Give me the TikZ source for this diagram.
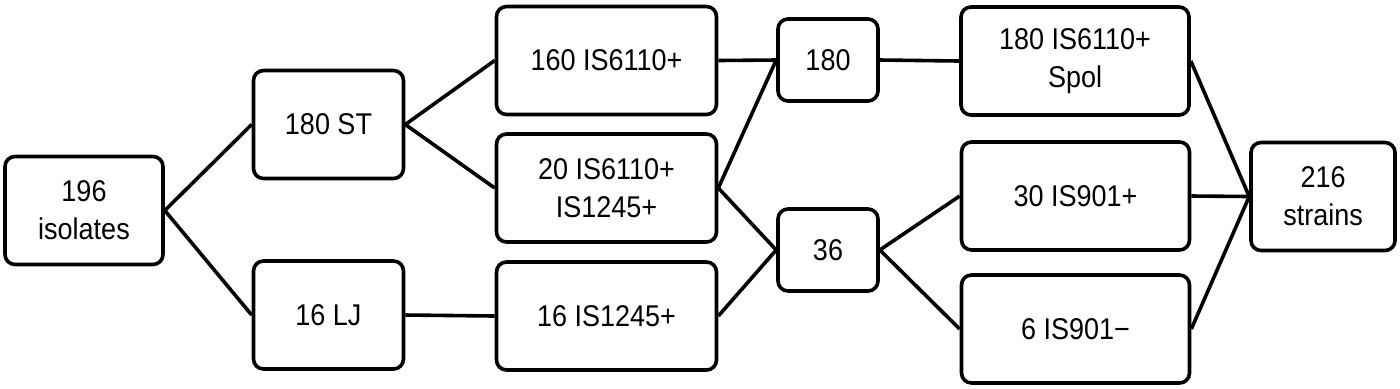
\documentclass[tikz,border=0pt]{standalone}
\usepackage{fontspec}
\setmainfont{Liberation Sans}[FakeStretch=0.9]
\tikzset{
  box/.style={draw,rounded corners=5pt,line width=1.8pt,inner sep=0pt,align=center,
    font=\fontsize{15}{19}\selectfont,minimum height=54pt},
  sbox/.style={box,minimum width=75pt},
  wbox/.style={box,minimum width=110pt},
  tbox/.style={box,minimum width=50pt,minimum height=41pt},
  link/.style={line width=1.8pt}
}
\begin{document}
\begin{tikzpicture}[x=0.5pt,y=-0.5pt]
\useasboundingbox (0,0) rectangle (1400,388);
\node[sbox,minimum width=79pt] (iso) at (84,210.5) {196\\isolates};
\node[sbox] (st) at (328.5,124.5) {180 ST};
\node[sbox] (lj) at (328.5,315) {16 LJ};
\node[wbox] (p160) at (606.5,60.5) {160 IS6110+};
\node[wbox] (p20) at (606.5,188) {20 IS6110+\\IS1245+};
\node[wbox] (p16) at (606.5,316) {16 IS1245+};
\node[tbox] (n180) at (828,60) {180};
\node[tbox] (n36) at (828,250) {36};
\node[wbox,minimum width=114pt] (spol) at (1075,61) {180 IS6110+\\Spol};
\node[wbox,minimum width=114pt] (p30) at (1075.5,196) {30 IS901+};
\node[wbox,minimum width=114pt] (p6) at (1075.5,329) {6 IS901−};
\node[sbox,minimum width=72pt] (s216) at (1323,196.5) {216\\strains};
\draw[link] (iso.east) -- (st.west);
\draw[link] (iso.east) -- (lj.west);
\draw[link] (st.east) -- (p160.west);
\draw[link] (st.east) -- (p20.west);
\draw[link] (lj.east) -- (p16.west);
\draw[link] (p160.east) -- (n180.west);
\draw[link] (p20.east) -- (n180.west);
\draw[link] (p20.east) -- (n36.west);
\draw[link] (p16.east) -- (n36.west);
\draw[link] (n180.east) -- (spol.west);
\draw[link] (n36.east) -- (p30.west);
\draw[link] (n36.east) -- (p6.west);
\foreach \s in {spol,p30,p6}{\draw[link] (\s.east) -- (s216.west);}
\end{tikzpicture}
\end{document}
